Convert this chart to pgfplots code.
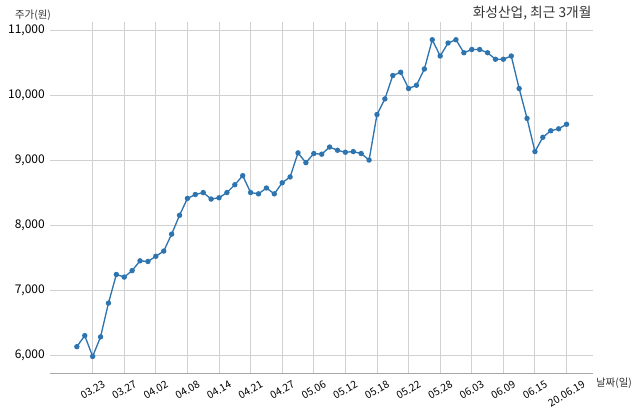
\documentclass[border=0pt]{standalone}
\usepackage{fontspec}
\setmainfont{Noto Sans CJK KR}
\usepackage{pgfplots}
\pgfplotsset{compat=1.18}

\definecolor{line}{HTML}{2E75B0}
\definecolor{gridc}{HTML}{D0D0D0}
\definecolor{axisc}{HTML}{A8A8A8}
\newcommand{\rl}[1]{\rotatebox{30}{#1}}

\begin{document}
\begin{tikzpicture}
    % page = 640 x 414 px at 0.75pt per px
    \useasboundingbox (0,0) rectangle (480pt,310.5pt);
    \begin{axis}[
        at={(37.5pt,30.5pt)}, anchor=south west,
        scale only axis,
        width=407.25pt, height=263.5pt,
        xmin=-3.4, xmax=65.35,
        ymin=5720, ymax=11123,
        axis lines*=left,
        axis line style={axisc, line width=0.8pt},
        y axis line style={draw=none},
        x axis line style={-},
        tick style={draw=none},
        grid=major,
        major grid style={gridc, line width=0.7pt},
        xtick={2,6,...,62},
        xticklabels={\rl{03.23},\rl{03.27},\rl{04.02},\rl{04.08},\rl{04.14},\rl{04.21},\rl{04.27},\rl{05.06},\rl{05.12},\rl{05.18},\rl{05.22},\rl{05.28},\rl{06.03},\rl{06.09},\rl{06.15},\rl{20.06.19}},
        xticklabel style={anchor=north, inner sep=0pt, yshift=-5pt, font=\fontsize{7.8}{9}\selectfont},
        ytick={6000,7000,...,11000},
        scaled y ticks=false,
        yticklabel style={anchor=east, inner sep=0pt, xshift=-3.75pt, font=\fontsize{9}{10}\selectfont,
            /pgf/number format/assume math mode=true, /pgf/number format/1000 sep={,}},
        clip=false,
    ]
        \addplot[line, line width=1pt, mark=*, mark size=1.5pt, mark options={fill=line, draw=line}] coordinates {
            (0,6130) (1,6300) (2,5980) (3,6280) (4,6800) (5,7240) (6,7200) (7,7300)
            (8,7450) (9,7440) (10,7520) (11,7600) (12,7860) (13,8150) (14,8410) (15,8470)
            (16,8500) (17,8400) (18,8420) (19,8500) (20,8620) (21,8760) (22,8500) (23,8480)
            (24,8570) (25,8480) (26,8650) (27,8740) (28,9110) (29,8960) (30,9100) (31,9090)
            (32,9200) (33,9150) (34,9120) (35,9130) (36,9100) (37,9000) (38,9700) (39,9940)
            (40,10300) (41,10350) (42,10100) (43,10150) (44,10400) (45,10850) (46,10600) (47,10800)
            (48,10850) (49,10650) (50,10700) (51,10700) (52,10650) (53,10550) (54,10550) (55,10600)
            (56,10100) (57,9640) (58,9130) (59,9350) (60,9450) (61,9480) (62,9550)
        };
    \end{axis}
    \node[anchor=east, inner sep=0pt, font=\fontsize{10.3}{12}\selectfont, text=black!80] at (443.8pt,300.5pt) {화성산업, 최근 3개월};
    \node[inner sep=0pt, font=\fontsize{7.8}{9}\selectfont, text=black!80] at (24.75pt,299.25pt) {주가(원)};
    \node[inner sep=0pt, font=\fontsize{7.8}{9}\selectfont, text=black!80] at (460.5pt,23pt) {날짜(일)};
\end{tikzpicture}
\end{document}
